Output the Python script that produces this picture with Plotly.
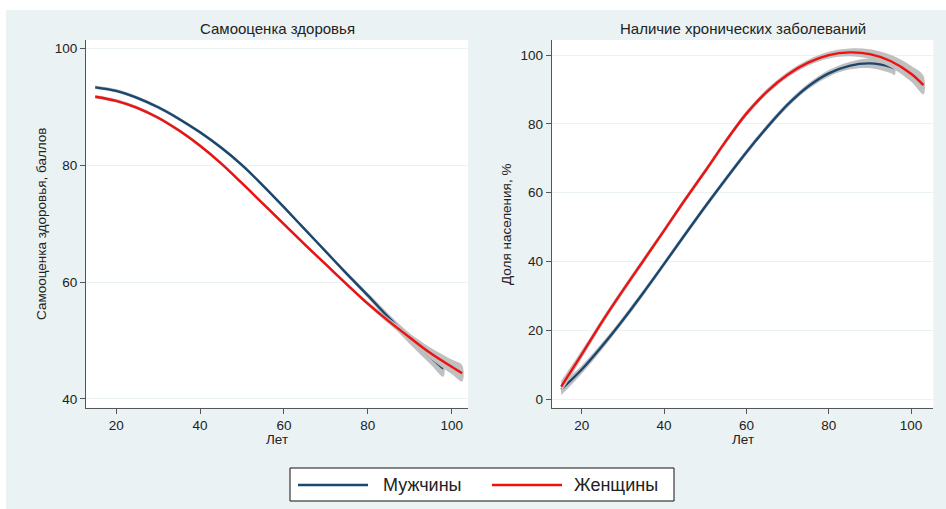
import plotly.graph_objects as go

W, H = 946, 509

# ---------------- data ----------------
# Panel 1: self-rated health (points)
ages_health_m = [15, 20, 25, 30, 35, 40, 45, 50, 55, 60, 65, 70, 75, 80, 85, 90, 95, 98]
health_m = [93.3, 92.7, 91.5, 89.9, 87.9, 85.6, 83.0, 80.0, 76.5, 72.8, 69.0, 65.2, 61.4, 57.7, 53.9, 50.3, 47.1, 45.2]
health_m_ci = [0.3, 0.3, 0.3, 0.3, 0.3, 0.3, 0.3, 0.3, 0.3, 0.3, 0.3, 0.3, 0.35, 0.45, 0.65, 0.9, 1.2, 1.4]

ages_health_f = [15, 20, 25, 30, 35, 40, 45, 50, 55, 60, 65, 70, 75, 80, 85, 90, 95, 100, 102.5]
health_f = [91.7, 91.0, 89.8, 88.1, 85.9, 83.3, 80.3, 76.9, 73.4, 69.9, 66.4, 63.0, 59.6, 56.3, 53.3, 50.5, 47.8, 45.5, 44.4]
health_f_ci = [0.3, 0.3, 0.3, 0.3, 0.3, 0.3, 0.3, 0.3, 0.3, 0.3, 0.3, 0.3, 0.3, 0.35, 0.5, 0.7, 0.95, 1.25, 1.4]

# Panel 2: chronic diseases (% of population)
ages_chronic_m = [15, 20, 25, 30, 35, 40, 45, 50, 55, 60, 65, 70, 75, 80, 85, 90, 95, 96]
chronic_m = [2.8, 8.6, 15.5, 23.0, 31.0, 39.3, 47.7, 56.0, 64.0, 71.8, 79.0, 85.6, 90.9, 94.7, 96.9, 97.6, 96.6, 96.1]
chronic_m_ci = [1.7, 1.2, 1.0, 0.9, 0.85, 0.8, 0.8, 0.8, 0.8, 0.8, 0.8, 0.8, 0.85, 0.95, 1.1, 1.4, 1.8, 1.9]

ages_chronic_f = [15, 20, 25, 30, 35, 40, 45, 50, 55, 60, 65, 70, 75, 80, 85, 90, 95, 100, 103]
chronic_f = [3.6, 13.0, 22.6, 31.6, 40.3, 49.0, 57.8, 66.3, 75.0, 83.0, 89.4, 94.3, 97.8, 100.0, 100.8, 100.3, 98.3, 94.6, 91.3]
chronic_f_ci = [1.7, 1.2, 1.0, 0.9, 0.85, 0.8, 0.8, 0.8, 0.8, 0.8, 0.8, 0.8, 0.85, 0.95, 1.1, 1.4, 1.8, 2.3, 2.7]

x_ticks = [20, 40, 60, 80, 100]
y_ticks_health = [40, 60, 80, 100]
y_ticks_chronic = [0, 20, 40, 60, 80, 100]

label_m = "Мужчины"
label_f = "Женщины"
titles = ["Самооценка здоровья", "Наличие хронических заболеваний"]
y_titles = ["Самооценка здоровья, баллов", "Доля населения, %"]
x_title = "Лет"

# ---------------- style ----------------
C_M = "#1a476f"
C_F = "#ee1111"
C_BAND = "rgba(192,192,192,1)"
BG = "#eaf2f3"
FONT = "Liberation Sans, Arial, sans-serif"
TXT = "#222222"


def px(x):
    return x / W


def py(y):
    return 1 - y / H


fig = go.Figure()


def band(ages, vals, hw, xa, ya):
    upper = [v + h for v, h in zip(vals, hw)]
    lower = [v - h for v, h in zip(vals, hw)]
    fig.add_trace(go.Scatter(
        x=list(ages) + list(ages)[::-1],
        y=upper + lower[::-1],
        fill="toself", fillcolor=C_BAND, mode="lines",
        line=dict(width=0, shape="spline"),
        hoverinfo="skip", showlegend=False, xaxis=xa, yaxis=ya))


def line(ages, vals, color, name, xa, ya):
    fig.add_trace(go.Scatter(
        x=ages, y=vals, mode="lines", name=name,
        line=dict(color=color, width=2.4, shape="spline"),
        showlegend=False, xaxis=xa, yaxis=ya))


# drawing order: men band, men line, women band, women line
band(ages_health_m, health_m, health_m_ci, "x", "y")
line(ages_health_m, health_m, C_M, label_m, "x", "y")
band(ages_health_f, health_f, health_f_ci, "x", "y")
line(ages_health_f, health_f, C_F, label_f, "x", "y")

band(ages_chronic_m, chronic_m, chronic_m_ci, "x2", "y2")
line(ages_chronic_m, chronic_m, C_M, label_m, "x2", "y2")
band(ages_chronic_f, chronic_f, chronic_f_ci, "x2", "y2")
line(ages_chronic_f, chronic_f, C_F, label_f, "x2", "y2")

axis_common = dict(
    showline=True, linecolor="#555555", linewidth=1,
    ticks="outside", ticklen=5, tickcolor="#555555", tickwidth=1,
    zeroline=False, tickfont=dict(family=FONT, size=13.5, color=TXT),
    fixedrange=True,
)

ydom = [py(407.7), py(40)]

fig.update_layout(
    width=W, height=H,
    margin=dict(l=0, r=0, t=0, b=0),
    paper_bgcolor=BG, plot_bgcolor="white",
    showlegend=False,
    font=dict(family=FONT, color=TXT),
    xaxis=dict(domain=[px(86), px(468)], range=[12.8, 103.9], tickvals=x_ticks,
               showgrid=False, anchor="y", **axis_common),
    yaxis=dict(domain=ydom, range=[38.5, 101.4], tickvals=y_ticks_health,
               showgrid=True, gridcolor=BG, gridwidth=1, anchor="x", **axis_common),
    xaxis2=dict(domain=[px(551.7), px(933.3)], range=[12.7, 105.4], tickvals=x_ticks,
                showgrid=False, anchor="y2", **axis_common),
    yaxis2=dict(domain=ydom, range=[-2.5, 104.4], tickvals=y_ticks_chronic,
                showgrid=True, gridcolor=BG, gridwidth=1, anchor="x2", **axis_common),
)

ann = []
# panel titles
for t, cx in zip(titles, [277, 742.5]):
    ann.append(dict(text=t, x=px(cx), y=py(29), xref="paper", yref="paper",
                    xanchor="center", yanchor="middle", showarrow=False,
                    font=dict(family=FONT, size=15, color=TXT)))
# y titles
for t, cx in zip(y_titles, [42, 507]):
    ann.append(dict(text=t, x=px(cx), y=py(224), xref="paper", yref="paper",
                    xanchor="center", yanchor="middle", showarrow=False, textangle=-90,
                    font=dict(family=FONT, size=13.5, color=TXT)))
# x titles
for cx in [277, 742.5]:
    ann.append(dict(text=x_title, x=px(cx), y=py(439), xref="paper", yref="paper",
                    xanchor="center", yanchor="middle", showarrow=False,
                    font=dict(family=FONT, size=13.5, color=TXT)))

# legend (drawn box with line samples)
ann.append(dict(text=label_m, x=px(381), y=py(485), xref="paper", yref="paper",
                xanchor="left", yanchor="middle", showarrow=False,
                font=dict(family=FONT, size=18, color=TXT)))
ann.append(dict(text=label_f, x=px(572), y=py(485), xref="paper", yref="paper",
                xanchor="left", yanchor="middle", showarrow=False,
                font=dict(family=FONT, size=18, color=TXT)))

shapes = [
    # white strips outside the graph region
    dict(type="rect", xref="paper", yref="paper", x0=0, x1=1, y0=py(10), y1=1,
         fillcolor="white", line=dict(width=0), layer="below"),
    dict(type="rect", xref="paper", yref="paper", x0=0, x1=px(6), y0=0, y1=1,
         fillcolor="white", line=dict(width=0), layer="below"),
    # legend box
    dict(type="rect", xref="paper", yref="paper", x0=px(290), x1=px(674), y0=py(501), y1=py(468),
         fillcolor="white", line=dict(color="#111111", width=1), layer="below"),
    dict(type="line", xref="paper", yref="paper", x0=px(298), x1=px(368), y0=py(485), y1=py(485),
         line=dict(color=C_M, width=2.4)),
    dict(type="line", xref="paper", yref="paper", x0=px(492), x1=px(562), y0=py(485), y1=py(485),
         line=dict(color=C_F, width=2.4)),
]

fig.update_layout(annotations=ann, shapes=shapes)

fig.write_html(
    "out.html",
    config={"displayModeBar": False},
    post_script="document.body.style.margin='0';document.body.style.overflow='hidden';",
)
